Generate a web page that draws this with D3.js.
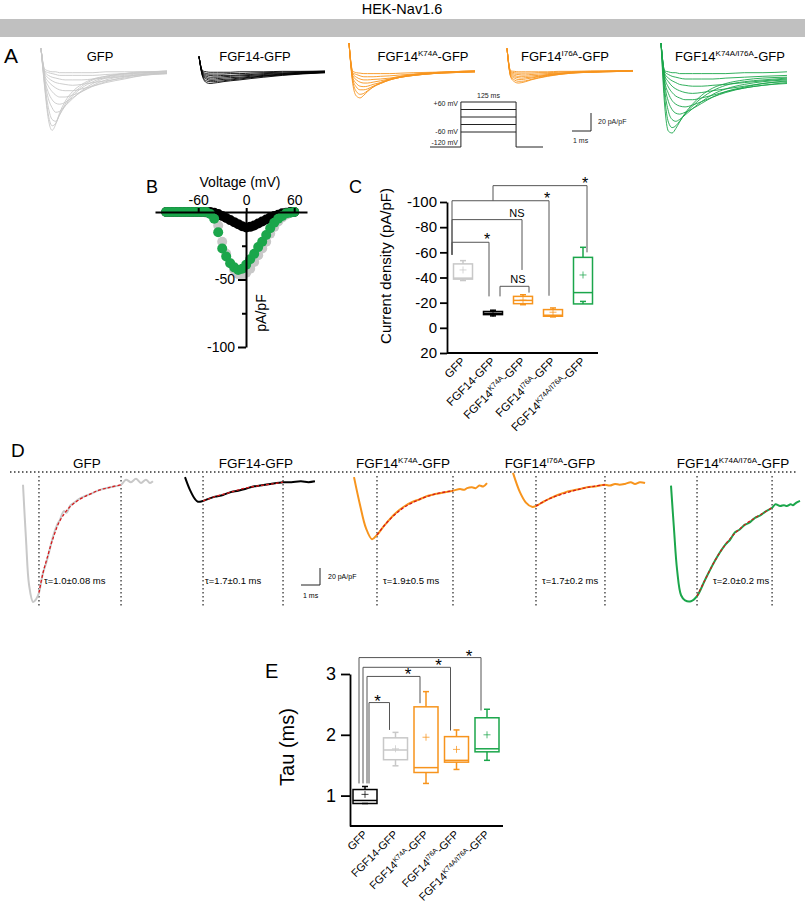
<!DOCTYPE html>
<html>
<head>
<meta charset="utf-8">
<title>HEK-Nav1.6</title>
<style>
  body { margin: 0; background: #fff; }
  svg text { font-family: "Liberation Sans", Arial, sans-serif; }
</style>
</head>
<body>
<svg id="fig" width="805" height="904"></svg>
<script src="https://d3js.org/d3.v7.min.js"></script>
<script>
// ---------------- data ----------------
const groupBase = ["GFP", "FGF14-GFP", "FGF14", "FGF14", "FGF14"];
const groupSup  = ["", "", "K74A", "I76A", "K74A/I76A"];
const groupTail = ["", "", "-GFP", "-GFP", "-GFP"];

const colGray = "#c8c8c8", colBlack = "#000", colOrange = "#f7941d", colGreen = "#1ba64b";
const groupColor = [colGray, colBlack, colOrange, colOrange, colGreen];
const tauColor   = [colBlack, colGray, colOrange, colOrange, colGreen];

// A: current families (pA/pF) sampled at traceTime (ms)
const traceTime = [0, 0.2, 0.4, 0.6, 0.8, 1.0, 1.3, 1.7, 2.2, 2.8, 3.5, 4.5, 5.5, 6.8];
const tracesGfp = [
  [24, -20, -55, -67, -60, -48, -35, -24, -16, -10, -7, -4, -3, -2],
  [24, -18, -50, -62, -59, -50, -38, -27, -18, -11, -7, -4, -2, -2],
  [24, -15, -42, -55, -57, -50, -40, -29, -20, -13, -8, -5, -3, -1],
  [24, -12, -32, -42, -47, -46, -40, -32, -23, -15, -9, -6, -4, -3],
  [24, -10, -25, -33, -37, -38, -36, -31, -24, -17, -11, -7, -5, -3],
  [24, -8, -18, -24, -28, -30, -30, -28, -24, -18, -13, -8, -5, -4],
  [24, -6, -13, -17, -20, -22, -23, -23, -21, -18, -14, -10, -6, -4],
  [24, -4, -9, -12, -14, -15, -16, -17, -16, -14, -12, -9, -6, -4],
  [24, -2, -6, -8, -9, -10, -11, -11, -11, -10, -9, -7, -5, -3],
  [24, -1, -3, -4, -5, -6, -6, -6, -6, -6, -5, -4, -3, -2],
  [24, 1, -1, -2, -2, -3, -3, -3, -3, -3, -2, -2, -2, -1]
];
const tracesFgf14 = [
  [15, -8, -14, -15, -14.5, -14, -13, -12, -11, -9.5, -8, -6, -4.5, -3],
  [15, -7, -12, -13, -13, -12.5, -12, -11, -10, -8.5, -7, -5.5, -4, -3],
  [15, -6, -10, -11.5, -11.5, -11, -10.5, -10, -9, -8, -6.5, -5, -4, -2.5],
  [15, -5, -8.5, -10, -10, -9.5, -9, -8.5, -8, -7, -6, -4.5, -3.5, -2.5],
  [15, -4, -7, -8, -8, -8, -7.5, -7, -6.5, -6, -5, -4, -3, -2],
  [15, -3, -5.5, -6, -6.5, -6.5, -6, -6, -5.5, -5, -4, -3.5, -2.5, -2],
  [15, -2, -4, -4.5, -4.5, -4.5, -4.5, -4, -4, -3.5, -3, -2.5, -2, -1.5],
  [15, -1, -2, -2.5, -2.5, -2.5, -2.5, -2.5, -2, -2, -2, -1.5, -1.5, -1]
];
const tracesK74a = [
  [30, -15, -29, -31, -28, -24, -19, -14, -10, -7, -5, -3, -2, -1],
  [30, -12, -24, -27, -26, -23, -19, -15, -11, -8, -5, -3, -2, -1],
  [30, -10, -19, -22, -22, -21, -18, -15, -11, -8, -6, -4, -2, -1],
  [30, -8, -15, -18, -18.5, -18, -16, -14, -11, -8, -6, -4, -3, -2],
  [30, -6, -11, -13.5, -14.5, -14.5, -13.5, -12, -10, -8, -6, -4, -3, -2],
  [30, -4, -8, -10, -11, -11, -10.5, -10, -9, -7, -5.5, -4, -3, -2],
  [30, -3, -5, -6.5, -7.5, -7.5, -7.5, -7, -6.5, -5.5, -4.5, -3.5, -2.5, -2],
  [30, -1, -3, -3.5, -4, -4, -4, -4, -4, -3.5, -3, -2.5, -2, -1.5]
];
const tracesI76a = [
  [24, -8, -13, -14.5, -14, -13, -11, -9, -7, -5, -3.5, -2.5, -2, -1],
  [24, -7, -11, -12.5, -12.5, -12, -10.5, -8.5, -6.5, -5, -3.5, -2.5, -2, -1],
  [24, -6, -9, -10.5, -10.5, -10, -9, -7.5, -6, -4.5, -3, -2.5, -1.5, -1],
  [24, -5, -7.5, -8.5, -9, -8.5, -8, -7, -5.5, -4, -3, -2, -1.5, -1],
  [24, -4, -6, -7, -7, -7, -6.5, -6, -5, -4, -3, -2, -1.5, -1],
  [24, -3, -4.5, -5, -5.5, -5.5, -5, -4.5, -4, -3.5, -2.5, -2, -1.5, -1],
  [24, -2, -3, -3.5, -3.5, -3.5, -3.5, -3, -3, -2.5, -2, -1.5, -1, -1],
  [24, -1, -1.5, -2, -2, -2, -2, -2, -2, -1.5, -1.5, -1, -1, -0.5]
];
const tracesDouble = [
  [30, -40, -68, -70, -65, -58, -48, -38, -28, -20, -15, -11, -9, -8],
  [30, -30, -58, -64, -62, -57, -49, -40, -31, -23, -17, -13, -11, -9],
  [30, -22, -46, -55, -57, -55, -50, -43, -35, -27, -21, -16, -13, -11],
  [30, -16, -35, -44, -48, -49, -47, -43, -37, -30, -24, -19, -15, -13],
  [30, -12, -26, -34, -38, -40, -41, -39, -35, -30, -25, -20, -17, -15],
  [30, -8, -19, -25, -29, -31, -33, -33, -31, -28, -24, -20, -17, -14],
  [30, -6, -13, -18, -21, -23, -25, -26, -25, -23, -21, -18, -15, -12],
  [30, -4, -9, -12, -14, -16, -17, -18, -18, -17, -16, -14, -12, -10],
  [30, -2, -5, -7, -8, -9, -10, -10, -10, -10, -9, -8, -7, -6],
  [30, -1, -2, -3, -3, -4, -4, -4, -4, -4, -4, -3, -3, -2]
];
const familyTraces = [tracesGfp, tracesFgf14, tracesK74a, tracesI76a, tracesDouble];

// voltage protocol (mV, ms)
const protoSteps = [-60, -30, 0, 30, 60];
const protoHold = -120;
const protoDur = 125;

// B: I-V relationship (pA/pF)
const ivVoltage = [-100, -95, -90, -85, -80, -75, -70, -65, -60, -55, -50, -45, -40, -35, -30, -25, -20,
                   -15, -10, -5, 0, 5, 10, 15, 20, 25, 30, 35, 40, 45, 50, 55, 60];
const ivGfp   = [0, 0, 0, 0, 0, 0, 0, 0, 0, 0, -0.5, -1, -3, -10, -22, -31, -38, -43, -46, -47,
                 -45, -42, -37, -32, -27, -22, -16, -11, -7, -4, -2, -0.5, 0];
const ivFgf14 = [0, 0, 0, 0, 0, 0, 0, 0, 0, 0, 0, 0, -0.5, -1.5, -3, -4.5, -6, -7.5, -9, -10.5,
                 -11.5, -11, -10, -8.5, -7, -5.5, -4, -3, -2, -1, -0.5, 0, 0];
const ivDouble = [0, 0, 0, 0, 0, 0, 0, 0, 0, 0, 0, -1.5, -5, -15, -27, -33, -38, -41, -43, -42,
                  -39, -35, -31, -26, -22, -17, -12, -8, -5, -3, -1, -0.5, 0];

// C: peak current density box plots (pA/pF)
const cLo   = [-37.6, -9.5, -18.4, -8.7, -21];
const cQ1   = [-38.7, -10.5, -19.2, -9.2, -19];
const cMed  = [-39.5, -11.5, -21.8, -10, -28];
const cQ3   = [-50.8, -13, -25, -14.5, -56];
const cHi   = [-53.4, -14, -26.3, -15.8, -64];
const cMean = [-46, -11.5, -22, -12.4, -42];
const bracketC = [
  {a: 0, b: 1, y: -68, ya: -58, yb: -25, label: "*"},
  {a: 0, b: 2, y: -86, ya: -58, yb: -46, label: "NS"},
  {a: 0, b: 3, y: -101, ya: -58, yb: -25.5, label: "*"},
  {a: 1, b: 4, y: -113, ya: -101, yb: -60, label: "*"},
  {a: 1, b: 2, y: -33, ya: -25, yb: -28, label: "NS"}
];

// D: representative traces with single-exponential fits (ms, pA/pF)
const dTraceGfp = [[0,-15],[0.16,-80],[0.32,-133],[0.53,-153],[0.68,-150],[0.84,-142],[1.05,-119],[1.26,-104],
  [1.58,-76],[1.8,-62],[1.95,-56],[2.15,-46],[2.3,-48],[2.47,-40],[2.7,-36],[3.0,-31],[3.53,-26],[4.05,-21],
  [4.58,-18],[5.16,-15],[5.42,-9],[5.68,-12],[5.95,-8],[6.21,-13],[6.47,-9],[6.68,-13],[6.84,-11]];
const dTraceFgf14 = [[0,-6],[0.26,-21],[0.53,-32],[0.68,-35],[0.95,-34],[1.3,-31],[1.58,-29],[2.0,-27],
  [2.37,-24],[2.8,-22],[3.16,-20],[3.6,-17],[3.95,-16],[4.5,-14],[5.16,-12],[5.6,-12],[6.1,-11],[6.5,-12],[6.84,-11]];
const dTraceK74a = [[0,-6],[0.32,-39],[0.63,-66],[0.95,-79],[1.21,-74],[1.63,-62],[2.16,-49],[2.68,-40],
  [3.1,-35],[3.47,-32],[3.9,-28],[4.26,-26],[4.7,-24],[5.21,-22],[5.58,-20],[5.8,-21],[5.95,-19],[6.21,-18],
  [6.4,-19],[6.6,-16],[6.8,-17],[7.0,-13]];
const dTraceI76a = [[0,-1],[0.37,-24],[0.68,-36],[1.0,-41],[1.21,-40],[1.6,-35],[1.95,-31],[2.35,-27],
  [2.74,-24],[3.1,-22],[3.53,-20],[3.9,-18],[4.3,-17],[4.84,-15],[5.1,-16],[5.37,-14],[5.6,-15],[5.89,-14],
  [6.2,-12],[6.42,-14],[6.68,-12],[6.95,-13]];
const dTraceDouble = [[0,-16],[0.16,-68],[0.32,-115],[0.53,-145],[0.74,-151],[1.05,-152],[1.37,-146],
  [1.79,-127],[2.32,-104],[2.84,-86],[3.1,-80],[3.37,-71],[3.6,-68],[3.89,-62],[4.1,-60],[4.42,-54],[4.7,-51],
  [4.95,-47],[5.32,-42],[5.5,-38],[5.74,-40],[5.95,-39],[6.1,-40],[6.3,-38],[6.42,-39],[6.6,-36],[6.79,-34]];
const dFitGfp = [[0.84,-142],[1.05,-119],[1.26,-102],[1.58,-78],[1.95,-57],[2.47,-41],[3.0,-32],[3.53,-26],
  [4.05,-21],[4.58,-18],[5.16,-15]];
const dFitFgf14 = [[0.95,-34],[1.58,-29],[2.37,-24],[3.16,-19],[3.95,-16],[4.6,-14],[5.16,-12]];
const dFitK74a = [[1.21,-74],[1.63,-62],[2.16,-50],[2.68,-41],[3.47,-32],[4.26,-26],[5.21,-22]];
const dFitI76a = [[1.21,-40],[1.95,-31],[2.74,-25],[3.53,-20],[4.2,-17],[4.84,-15]];
const dFitDouble = [[1.37,-146],[1.79,-127],[2.32,-104],[2.84,-86],[3.37,-72],[3.89,-62],[4.42,-54],
  [4.95,-47],[5.32,-42]];
const dTraces = [dTraceGfp, dTraceFgf14, dTraceK74a, dTraceI76a, dTraceDouble];
const dFits = [dFitGfp, dFitFgf14, dFitK74a, dFitI76a, dFitDouble];
const tauText = ["τ=1.0±0.08 ms", "τ=1.7±0.1 ms", "τ=1.9±0.5 ms", "τ=1.7±0.2 ms", "τ=2.0±0.2 ms"];

// E: inactivation tau box plots (ms)
const eLo   = [0.87, 1.49, 1.2, 1.43, 1.58];
const eQ1   = [0.87, 1.59, 1.38, 1.55, 1.72];
const eMed  = [0.92, 1.75, 1.46, 1.58, 1.77];
const eQ3   = [1.1, 1.95, 2.46, 1.97, 2.28];
const eHi   = [1.15, 2.04, 2.71, 2.08, 2.42];
const eMean = [1.02, 1.77, 1.96, 1.76, 2.0];
const bracketE = [
  {a: 0, b: 1, y: 2.53, ya: 1.2, yb: 2.08, label: "*"},
  {a: 0, b: 2, y: 2.96, ya: 1.2, yb: 2.52, label: "*"},
  {a: 0, b: 3, y: 3.11, ya: 1.2, yb: 2.07, label: "*"},
  {a: 0, b: 4, y: 3.27, ya: 1.2, yb: 2.4, label: "*"}
];

// ---------------- drawing ----------------
const svg = d3.select("#fig");

function groupLabel(sel, i, supSize, supDy) {
  sel.append("tspan").text(groupBase[i]);
  if (groupSup[i]) {
    sel.append("tspan").attr("font-size", supSize).attr("dy", -supDy).text(groupSup[i]);
    sel.append("tspan").attr("dy", supDy).text(groupTail[i]);
  }
}
function panelLetter(x, y, t, size) {
  svg.append("text").attr("x", x).attr("y", y).attr("font-size", size).text(t);
}

// header
svg.append("text").attr("x", 402).attr("y", 14).attr("text-anchor", "middle")
  .attr("font-size", 14.5).text("HEK-Nav1.6");
svg.append("rect").attr("x", 0).attr("y", 19).attr("width", 805).attr("height", 18).attr("fill", "#c0c0c0");

// ----- A -----
panelLetter(4, 63, "A", 21);
const aX0 = [41, 199, 349, 507, 661];
const aLabelDx = [59, 56, 74, 58, 69];
const yA = d3.scaleLinear().domain([0, -20]).range([70, 88]);
familyTraces.forEach((fam, gi) => {
  const xA = d3.scaleLinear().domain([0, 6.8]).range([aX0[gi], aX0[gi] + 126]);
  const line = d3.line().x((d, k) => xA(traceTime[k])).y(d => yA(d)).curve(d3.curveMonotoneX);
  svg.append("g").selectAll("path").data(fam).join("path")
    .attr("d", line).attr("fill", "none").attr("stroke", groupColor[gi]).attr("stroke-width", 0.9);
  const t = svg.append("text").attr("x", aX0[gi] + aLabelDx[gi]).attr("y", 61)
    .attr("text-anchor", "middle").attr("font-size", 13);
  groupLabel(t, gi, 8, 5);
});

// voltage protocol
const pT = d3.scaleLinear().domain([-70, 186]).range([430, 543]);
const pV = d3.scaleLinear().domain([-120, 60]).range([147, 102]);
const proto = svg.append("g").attr("stroke", "#222").attr("stroke-width", 1).attr("fill", "none");
protoSteps.forEach(v => {
  proto.append("line").attr("x1", pT(0)).attr("x2", pT(protoDur)).attr("y1", pV(v)).attr("y2", pV(v));
});
proto.append("path").attr("d",
  `M${pT(-70)},${pV(protoHold)}H${pT(0)}V${pV(60)}M${pT(protoDur)},${pV(60)}V${pV(protoHold)}H${pT(186)}`);
const pLab = svg.append("g").attr("font-size", 7).attr("fill", "#222");
pLab.append("text").attr("x", pT(0) - 3).attr("y", pV(60) + 4).attr("text-anchor", "end").text("+60 mV");
pLab.append("text").attr("x", pT(0) - 3).attr("y", pV(-60) + 2).attr("text-anchor", "end").text("-60 mV");
pLab.append("text").attr("x", pT(0) - 3).attr("y", pV(protoHold) - 2).attr("text-anchor", "end").text("-120 mV");
pLab.append("text").attr("x", pT(protoDur / 2)).attr("y", pV(60) - 4).attr("text-anchor", "middle").text("125 ms");

// A scale bar: 20 pA/pF x 1 ms
const sbA = svg.append("g").attr("stroke", "#222").attr("fill", "none");
sbA.append("path").attr("d", `M572,131H591V${131 - (yA(-20) - yA(0))}`);
pLab.append("text").attr("x", 598).attr("y", 124).text("20 pA/pF");
pLab.append("text").attr("x", 573).attr("y", 143).text("1 ms");

// ----- B -----
panelLetter(146, 193, "B", 18);
const xB = d3.scaleLinear().domain([-114, 76]).range([155, 307]);
const yB = d3.scaleLinear().domain([0, -100]).range([212, 347]);
const ivSets = [[ivGfp, colGray], [ivFgf14, colBlack], [ivDouble, colGreen]];
ivSets.forEach(([vals, c]) => {
  svg.append("g").selectAll("circle").data(vals).join("circle")
    .attr("cx", (d, k) => xB(ivVoltage[k])).attr("cy", d => yB(d)).attr("r", 5).attr("fill", c);
});
const axB = svg.append("g").attr("transform", "translate(0,212)")
  .call(d3.axisTop(xB).tickValues([-60, 0, 60]).tickSize(4).tickSizeOuter(0).tickPadding(3).tickFormat(d => String(d)));
const ayB = svg.append("g").attr("transform", "translate(246,0)")
  .call(d3.axisLeft(yB).tickValues([-50, -100]).tickSize(8).tickSizeOuter(0).tickPadding(3).tickFormat(d => String(d)));
const ayB2 = svg.append("g").attr("transform", "translate(246,0)")
  .call(d3.axisLeft(yB).tickValues([-25, -75]).tickSize(4).tickFormat(""));
ayB2.select(".domain").remove();
[axB, ayB, ayB2].forEach(a => {
  a.selectAll("path,line").attr("stroke", "#000").attr("stroke-width", 2);
  a.selectAll("text").attr("font-size", 14).attr("fill", "#000").attr("font-family", null);
});
svg.append("text").attr("x", 240).attr("y", 187).attr("text-anchor", "middle").attr("font-size", 14).text("Voltage (mV)");
svg.append("text").attr("transform", "translate(266,313) rotate(-90)").attr("text-anchor", "middle")
  .attr("font-size", 14).text("pA/pF");

// box plot helper
function drawBoxes(x, y, lo, q1, med, q3, hi, mean, colors, bw) {
  lo.forEach((_, i) => {
    const cx = x(i);
    const g = svg.append("g").attr("stroke", colors[i]).attr("fill", "none").attr("stroke-width", 1.5);
    g.append("line").attr("x1", cx).attr("x2", cx).attr("y1", y(lo[i])).attr("y2", y(q1[i]));
    g.append("line").attr("x1", cx).attr("x2", cx).attr("y1", y(q3[i])).attr("y2", y(hi[i]));
    [lo[i], hi[i]].forEach(v => g.append("line").attr("x1", cx - 3).attr("x2", cx + 3).attr("y1", y(v)).attr("y2", y(v)));
    g.append("rect").attr("x", cx - bw / 2).attr("width", bw)
      .attr("y", Math.min(y(q1[i]), y(q3[i]))).attr("height", Math.abs(y(q1[i]) - y(q3[i])));
    g.append("line").attr("x1", cx - bw / 2).attr("x2", cx + bw / 2).attr("y1", y(med[i])).attr("y2", y(med[i]));
    g.append("path").attr("d", `M${cx - 3.5},${y(mean[i])}h7M${cx},${y(mean[i]) - 3.5}v7`)
      .attr("stroke-width", 1).attr("opacity", 0.75);
  });
}
function drawBrackets(list, x, y, leftDx, rightDx, labelFn) {
  const g = svg.append("g").attr("stroke", "#555").attr("fill", "none").attr("stroke-width", 1);
  list.forEach((b, k) => {
    const xl = x(b.a) + leftDx[k], xr = x(b.b) + rightDx[k];
    g.append("path").attr("d", `M${xl},${y(b.ya)}V${y(b.y)}H${xr}V${y(b.yb)}`);
    labelFn(b, xl, xr, y(b.y));
  });
}

// ----- C -----
panelLetter(349, 193, "C", 18);
const xC = d3.scalePoint().domain(d3.range(5)).range([463, 583]);
const yC = d3.scaleLinear().domain([20, -100]).range([353, 202]);
const ayC = svg.append("g").attr("transform", "translate(447,0)")
  .call(d3.axisLeft(yC).tickValues([20, 0, -20, -40, -60, -80, -100]).tickSize(7).tickSizeOuter(0)
    .tickPadding(3).tickFormat(d => String(d)));
ayC.selectAll("path,line").attr("stroke", "#000").attr("stroke-width", 1.8);
ayC.selectAll("text").attr("font-size", 15).attr("fill", "#000").attr("font-family", null);
svg.append("line").attr("x1", 447).attr("x2", 598).attr("y1", yC(20)).attr("y2", yC(20))
  .attr("stroke", "#000").attr("stroke-width", 1.8);
svg.append("text").attr("transform", "translate(391,266) rotate(-90)").attr("text-anchor", "middle")
  .attr("font-size", 15).text("Current density (pA/pF)");
drawBoxes(xC, yC, cLo, cQ1, cMed, cQ3, cHi, cMean, groupColor, 19);
drawBrackets(bracketC, xC, yC, [-11, -11, -11, 0, 7], [-4, -1, -4, 4, 6], (b, xl, xr, yy) => {
  if (b.label === "*") {
    svg.append("text").attr("x", xr - 2).attr("y", yy + 3).attr("text-anchor", "middle")
      .attr("font-size", 16).text("*");
  } else {
    svg.append("text").attr("x", b.a === 1 ? xr - 11 : xr - 5).attr("y", yy - 3).attr("text-anchor", "middle")
      .attr("font-size", 11).text("NS");
  }
});
groupBase.forEach((_, i) => {
  const t = svg.append("text").attr("transform", `translate(${xC(i) + 3},${yC(20) + 9}) rotate(-45)`)
    .attr("text-anchor", "end").attr("font-size", 11.5);
  groupLabel(t, i, 7.5, 4);
});

// ----- D -----
panelLetter(11, 457, "D", 19);
const dX0 = [23, 185, 354, 513, 671];
const dTitleX = [87, 256, 403, 550, 733];
const tauDx = [5, 2, 6, 6, 16];
const yD = d3.scaleLinear().domain([0, -160]).range([472, 608]);
svg.append("line").attr("x1", 10).attr("x2", 798).attr("y1", yD(0)).attr("y2", yD(0))
  .attr("stroke", "#333").attr("stroke-width", 1.3).attr("stroke-dasharray", "1.5,2.5");
dTraces.forEach((tr, i) => {
  const xD = d3.scaleLinear().domain([0, 7]).range([dX0[i], dX0[i] + 133]);
  const line = d3.line().x(d => xD(d[0])).y(d => yD(d[1])).curve(d3.curveCatmullRom);
  const fit = dFits[i];
  [fit[0][0], fit[fit.length - 1][0]].forEach(t => {
    svg.append("line").attr("x1", xD(t)).attr("x2", xD(t)).attr("y1", 476).attr("y2", 606)
      .attr("stroke", "#333").attr("stroke-width", 1.3).attr("stroke-dasharray", "1.5,2.5");
  });
  svg.append("path").attr("d", line(tr)).attr("fill", "none").attr("stroke", groupColor[i]).attr("stroke-width", 2);
  svg.append("path").attr("d", line(fit)).attr("fill", "none").attr("stroke", "#d7191c")
    .attr("stroke-width", 1.3).attr("stroke-dasharray", "3,2");
  const t = svg.append("text").attr("x", dTitleX[i]).attr("y", 468).attr("text-anchor", "middle").attr("font-size", 13.5);
  groupLabel(t, i, 8, 5);
  svg.append("text").attr("x", xD(fit[0][0]) + tauDx[i]).attr("y", 584).attr("font-size", 9.5).text(tauText[i]);
});
// D scale bar: 20 pA/pF x 1 ms
const sbD = svg.append("g").attr("stroke", "#222").attr("fill", "none");
sbD.append("path").attr("d", `M301,585H320V${585 - (yD(-20) - yD(0))}`);
svg.append("text").attr("x", 328).attr("y", 579).attr("font-size", 7).text("20 pA/pF");
svg.append("text").attr("x", 303).attr("y", 598).attr("font-size", 7).text("1 ms");

// ----- E -----
panelLetter(265, 678, "E", 20);
const xE = d3.scalePoint().domain(d3.range(5)).range([365, 487]);
const yE = d3.scaleLinear().domain([0.5, 3]).range([826, 674]);
const ayE = svg.append("g").attr("transform", "translate(350,0)")
  .call(d3.axisLeft(yE).tickValues([1, 2, 3]).tickSize(9).tickSizeOuter(0).tickPadding(5).tickFormat(d3.format("d")));
ayE.selectAll("path,line").attr("stroke", "#000").attr("stroke-width", 1.8);
ayE.selectAll("text").attr("font-size", 18).attr("fill", "#000").attr("font-family", null);
svg.append("line").attr("x1", 350).attr("x2", 503).attr("y1", yE(0.5)).attr("y2", yE(0.5))
  .attr("stroke", "#000").attr("stroke-width", 1.8);
svg.append("text").attr("transform", "translate(294,747) rotate(-90)").attr("text-anchor", "middle")
  .attr("font-size", 20).text("Tau (ms)");
drawBoxes(xE, yE, eLo, eQ1, eMed, eQ3, eHi, eMean, tauColor, 24);
drawBrackets(bracketE, xE, yE, [4, 2, -2, -6], [-6, -6, -6, -6], (b, xl, xr, yy) => {
  svg.append("text").attr("x", xr - 12).attr("y", yy + 4).attr("text-anchor", "middle")
    .attr("font-size", 17).text("*");
});
groupBase.forEach((_, i) => {
  const t = svg.append("text").attr("transform", `translate(${xE(i) + 3},${yE(0.5) + 9}) rotate(-45)`)
    .attr("text-anchor", "end").attr("font-size", 11);
  groupLabel(t, i, 7, 4);
});
</script>
</body>
</html>
